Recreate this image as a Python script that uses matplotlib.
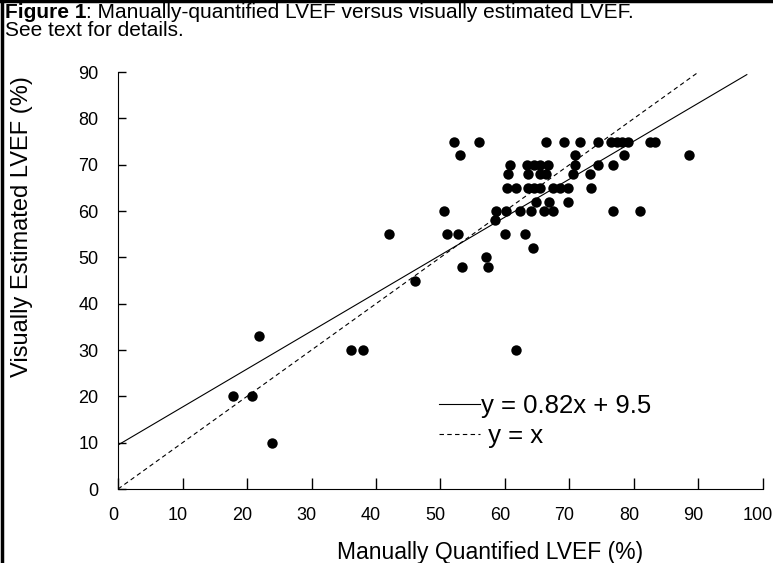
# Figura 1 - LVEF manual vs visual

import numpy as np
import matplotlib
matplotlib.use('Agg')
import matplotlib.pyplot as plt
import matplotlib.transforms as mtransforms
from matplotlib.lines import Line2D

### Dados de entrada
lvef_manual = [23.8, 17.9, 20.8, 21.9, 36.2, 38.0, 61.7, 46.1, 53.3, 57.4,
               57.1, 64.3, 42.0, 51.0, 52.7, 60.0, 63.1, 58.4,
               50.5, 58.6, 60.1, 62.4, 64.0, 66.0, 67.5, 76.7, 80.9,
               64.8, 66.8, 69.8,
               60.3, 61.7, 63.6, 64.5, 65.4, 67.4, 68.5, 69.7, 73.3,
               60.5, 63.6, 65.4, 66.3, 70.5, 73.2,
               60.8, 63.4, 64.5, 65.5, 66.6, 70.8, 74.5, 76.7,
               53.0, 70.8, 78.4, 88.6,
               52.1, 56.0, 66.3, 69.1, 71.7, 74.5, 76.5, 77.4, 78.2, 79.1, 82.5, 83.3]
lvef_visual = [10, 20, 20, 33, 30, 30, 30, 45, 48, 48,
               50, 52, 55, 55, 55, 55, 55, 58,
               60, 60, 60, 60, 60, 60, 60, 60, 60,
               62, 62, 62,
               65, 65, 65, 65, 65, 65, 65, 65, 65,
               68, 68, 68, 68, 68, 68,
               70, 70, 70, 70, 70, 70, 70, 70,
               72, 72, 72, 72,
               75, 75, 75, 75, 75, 75, 75, 75, 75, 75, 75, 75]

# Regressão e identidade
inclinacao  = 0.82
intercepto  = 9.5
x_reg       = np.array([0, 97.5])
x_ident     = np.array([0, 90])

x_ticks = [0, 10, 20, 30, 40, 50, 60, 70, 80, 90, 100]
y_ticks = [0, 10, 20, 30, 40, 50, 60, 70, 80, 90]

plt.rcParams['font.family'] = ['Liberation Sans', 'DejaVu Sans']
narrow = ['Liberation Sans Narrow', 'Liberation Sans', 'DejaVu Sans']

fig = plt.figure(figsize=(7.73, 5.63), dpi=100)
ax = fig.add_axes([0.1527, 0.1314, 0.8343, 0.7406])

ax.plot(lvef_manual, lvef_visual, 'o', color='black', ms=7.5, mew=0)
ax.plot(x_reg, inclinacao * x_reg + intercepto, color='black', lw=0.8,
        label='y = 0.82x + 9.5')
ax.plot(x_ident, x_ident, color='black', lw=0.8, dashes=(4, 3),
        label=' y = x')

ax.set_xlim(0, 100)
ax.set_ylim(0, 90)
ax.set_xticks(x_ticks)
ax.set_yticks(y_ticks)
ax.spines['top'].set_visible(False)
ax.spines['right'].set_visible(False)
ax.tick_params(axis='x', direction='in', length=8, width=1, pad=13)
ax.tick_params(axis='y', direction='in', length=6, width=1, pad=14)
desloc = mtransforms.ScaledTranslation(-5 / 100, 0, fig.dpi_scale_trans)
for lbl in ax.get_xticklabels():
    lbl.set_family(narrow)
    lbl.set_fontsize(13)
    lbl.set_transform(lbl.get_transform() + desloc)
for lbl in ax.get_yticklabels():
    lbl.set_family(narrow)
    lbl.set_fontsize(13)

ax.set_xlabel('Manually Quantified LVEF (%)', fontsize=16.5)
ax.set_ylabel('Visually Estimated LVEF (%)', fontsize=17)
ax.xaxis.set_label_coords(0.577, -0.125)
ax.yaxis.set_label_coords(-0.132, 0.63)

ax.legend(loc='upper left', bbox_to_anchor=(0.497, 0.228), frameon=False,
          fontsize=18.5, handlelength=1.6, handletextpad=0.05,
          labelspacing=0.25, borderpad=0, borderaxespad=0)

# Título da figura
t1 = fig.text(0.006, 0.978, 'Figure 1', fontsize=15, fontweight='bold', va='center')
plt.annotate(': Manually-quantified LVEF versus visually estimated LVEF.',
             xy=(1, 0.5), xycoords=t1, fontsize=15, va='center', ha='left')
fig.text(0.006, 0.946, 'See text for details.', fontsize=15, va='center')

# Moldura (esquerda e topo)
fig.add_artist(Line2D([0.002, 0.002], [0, 1], color='black', lw=2.5,
                      transform=fig.transFigure))
fig.add_artist(Line2D([0, 1], [0.998, 0.998], color='black', lw=2.5,
                      transform=fig.transFigure))

plt.savefig('out.png', dpi=100)
